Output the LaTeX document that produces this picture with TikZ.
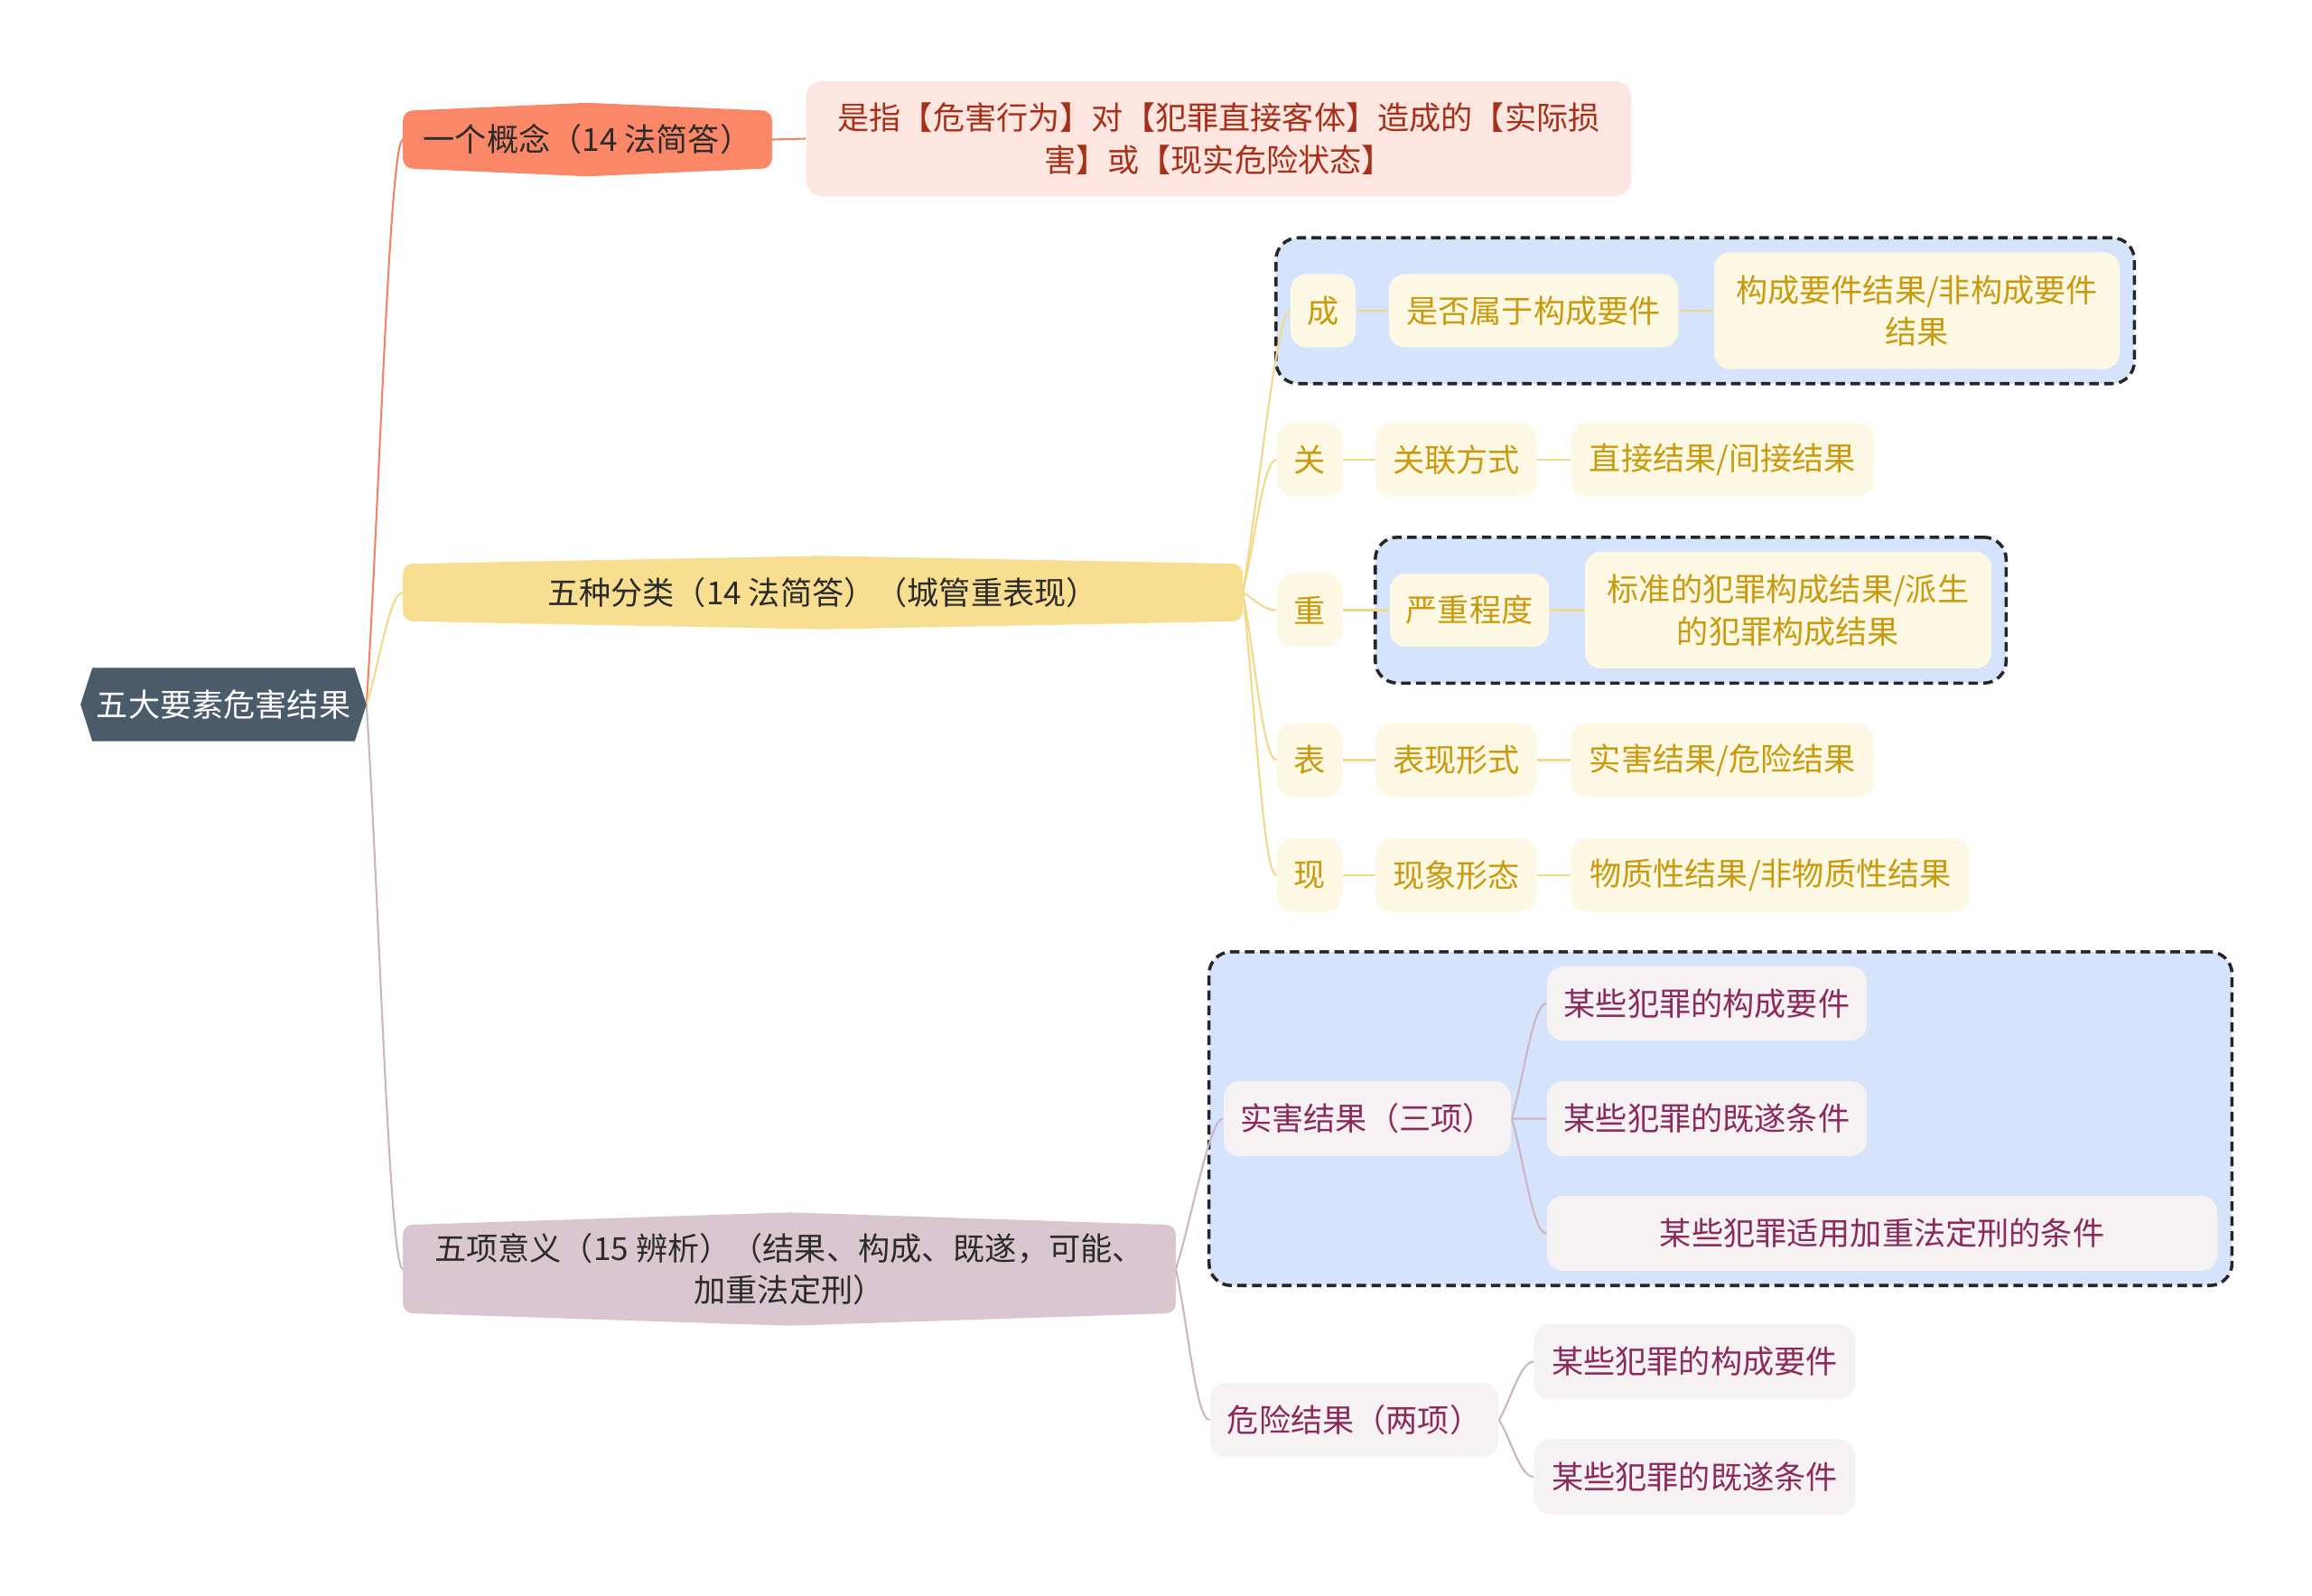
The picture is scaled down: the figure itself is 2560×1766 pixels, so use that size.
\documentclass[tikz,border=0pt]{standalone}
\usepackage{fontspec}
\setmainfont{Noto Sans CJK SC}
\usetikzlibrary{calc,backgrounds,fit}

\definecolor{rootfill}{HTML}{4B5B6A}
\definecolor{afill}{HTML}{FA8768}
\definecolor{adfill}{HTML}{FDE6DF}
\definecolor{adtext}{HTML}{A6301A}
\definecolor{acol}{HTML}{F08466}
\definecolor{bfill}{HTML}{F7DE90}
\definecolor{yfill}{HTML}{FDF8E3}
\definecolor{ytext}{HTML}{C99A0E}
\definecolor{ycol}{HTML}{F2D98A}
\definecolor{cfill}{HTML}{D9C6CF}
\definecolor{pfill}{HTML}{F6F1F3}
\definecolor{ptext}{HTML}{8B2B5B}
\definecolor{pcol}{HTML}{CBB6BF}
\definecolor{groupblue}{HTML}{D5E3FC}
\definecolor{maintext}{HTML}{2B2B2B}

% peaked box behind a main topic node: name, peak, colour
\newcommand{\peakshape}[3]{%
  \fill[#3, rounded corners=3pt] (#1.north west) -- ($(#1.north)+(0,-#2)$)
    -- (#1.north east) -- (#1.south east) -- ($(#1.south)+(0,#2)$)
    -- (#1.south west) -- cycle;}

\begin{document}
\begin{tikzpicture}[x=0.01cm, y=-0.01cm, line cap=round, line join=round]

% ------------------------------------------------
% Styles
% ------------------------------------------------
\tikzset{
    base/.style={inner sep=0pt, align=center, font=\fontsize{10pt}{13.2pt}\selectfont},
    topic/.style={base, text=maintext},
    adleaf/.style={base, fill=adfill, text=adtext, rounded corners=5pt},
    yleaf/.style={base, fill=yfill, text=ytext, rounded corners=5pt},
    pleaf/.style={base, fill=pfill, text=ptext, rounded corners=5pt},
    group/.style={draw=black!85, dash pattern=on 3pt off 1.7pt, line width=1pt, fill=groupblue,
                  rounded corners=7pt, inner sep=0.155cm},
    link/.style={line width=0.6pt, to path={.. controls ($(\tikztostart)!0.35!(\tikztotarget)$)
                 and ($(\tikztotarget)+(-15,0)$) .. (\tikztotarget)}},
    bar/.style={line width=0.6pt},
}

\useasboundingbox (0,0) rectangle (2560,1766);

% ------------------------------------------------
% Root and main topics
% ------------------------------------------------
\node[base, text=white, minimum width=3.15cm, minimum height=0.8cm] (root) at (247.5,780) {五大要素危害结果};

\node[topic, minimum width=4.07cm, minimum height=0.62cm] (gainian) at (650.5,154.5) {一个概念（14 法简答）};
\node[adleaf, minimum width=9.13cm, minimum height=1.27cm] (gainiand) at (1349.5,153.5)
    {是指【危害行为】对【犯罪直接客体】造成的【实际损\\害】或【现实危险状态】};

\node[topic, minimum width=9.28cm, minimum height=0.62cm] (fenlei) at (911,656) {五种分类（14 法简答）（城管重表现）};

\node[topic, minimum width=8.54cm, minimum height=0.96cm] (yiyi) at (874,1405)
    {五项意义（15 辨析）（结果、构成、既遂，可能、\\加重法定刑）};

% ------------------------------------------------
% Five kinds
% ------------------------------------------------
\node[yleaf, minimum width=0.72cm, minimum height=0.81cm] (cheng) at (1465,344) {成};
\node[yleaf, minimum width=3.2cm, minimum height=0.81cm] (chengb) at (1698,344) {是否属于构成要件};
\node[yleaf, minimum width=4.49cm, minimum height=1.29cm] (chengc) at (2122.5,344) {构成要件结果/非构成要件\\结果};

\node[yleaf, minimum width=0.72cm, minimum height=0.81cm] (guan) at (1450,509) {关};
\node[yleaf, minimum width=1.78cm, minimum height=0.81cm] (guanb) at (1612.5,509) {关联方式};
\node[yleaf, minimum width=3.35cm, minimum height=0.81cm] (guanc) at (1907.5,509) {直接结果/间接结果};

\node[yleaf, minimum width=0.72cm, minimum height=0.81cm] (zhong) at (1450,675.5) {重};
\node[yleaf, minimum width=1.76cm, minimum height=0.81cm] (zhongb) at (1627,675.5) {严重程度};
\node[yleaf, minimum width=4.5cm, minimum height=1.29cm] (zhongc) at (1980,675.5) {标准的犯罪构成结果/派生\\的犯罪构成结果};

\node[yleaf, minimum width=0.72cm, minimum height=0.81cm] (biao) at (1450,841.5) {表};
\node[yleaf, minimum width=1.78cm, minimum height=0.81cm] (biaob) at (1612.5,841.5) {表现形式};
\node[yleaf, minimum width=3.35cm, minimum height=0.81cm] (biaoc) at (1907.5,841.5) {实害结果/危险结果};

\node[yleaf, minimum width=0.72cm, minimum height=0.81cm] (xian) at (1450,969) {现};
\node[yleaf, minimum width=1.78cm, minimum height=0.81cm] (xianb) at (1612.5,969) {现象形态};
\node[yleaf, minimum width=4.41cm, minimum height=0.81cm] (xianc) at (1960.5,969) {物质性结果/非物质性结果};

% ------------------------------------------------
% Five meanings
% ------------------------------------------------
\node[pleaf, minimum width=3.18cm, minimum height=0.83cm] (shihai) at (1514,1238.5) {实害结果（三项）};
\node[pleaf, minimum width=3.54cm, minimum height=0.82cm] (shihai1) at (1890,1111) {某些犯罪的构成要件};
\node[pleaf, minimum width=3.54cm, minimum height=0.83cm] (shihai2) at (1890,1238.5) {某些犯罪的既遂条件};
\node[pleaf, minimum width=7.42cm, minimum height=0.83cm] (shihai3) at (2084,1365.5) {某些犯罪适用加重法定刑的条件};

\node[pleaf, minimum width=3.19cm, minimum height=0.82cm] (weixian) at (1499.5,1572) {危险结果（两项）};
\node[pleaf, minimum width=3.55cm, minimum height=0.83cm] (weixian1) at (1876.5,1507.5) {某些犯罪的构成要件};
\node[pleaf, minimum width=3.55cm, minimum height=0.83cm] (weixian2) at (1876.5,1635) {某些犯罪的既遂条件};

\begin{pgfonlayer}{background}
% dashed groups
\node[group, fit=(cheng)(chengb)(chengc)] (grpcheng) {};
\node[group, fit=(zhongb)(zhongc)] (grpzhong) {};
\node[group, fit=(shihai)(shihai1)(shihai2)(shihai3)] (grpshihai) {};

% connectors
\draw[link, acol] (root.east) to (gainian.west);
\draw[link, ycol] (root.east) to (fenlei.west);
\draw[link, pcol] (root.east) to (yiyi.west);
\draw[bar, acol] (gainian.east) -- (gainiand.west);

\foreach \k in {cheng,guan,zhong,biao,xian}{
    \draw[link, ycol] (fenlei.east) to (\k.west);
    \draw[bar, ycol] (\k.east) -- (\k b.west);
}
\draw[bar, ycol] (chengb.east) -- (chengc.west);
\draw[bar, ycol] (guanb.east) -- (guanc.west);
\draw[bar, ycol] (zhongb.east) -- (zhongc.west);
\draw[bar, ycol] (biaob.east) -- (biaoc.west);
\draw[bar, ycol] (xianb.east) -- (xianc.west);

\draw[link, pcol] (yiyi.east) to (shihai.west);
\draw[link, pcol] (yiyi.east) to (weixian.west);
\foreach \k in {1,2,3}{
    \draw[link, pcol] (shihai.east) to (shihai\k.west);
}
\foreach \k in {1,2}{
    \draw[link, pcol] (weixian.east) to (weixian\k.west);
}

% topic shapes
\fill[rootfill] ($(root.north west)+(13,0)$) -- ($(root.north east)+(-13,0)$) -- (root.east)
    -- ($(root.south east)+(-13,0)$) -- ($(root.south west)+(13,0)$) -- (root.west) -- cycle;
\peakshape{gainian}{9}{afill}
\peakshape{fenlei}{9}{bfill}
\peakshape{yiyi}{14}{cfill}
\end{pgfonlayer}

\end{tikzpicture}
\end{document}
